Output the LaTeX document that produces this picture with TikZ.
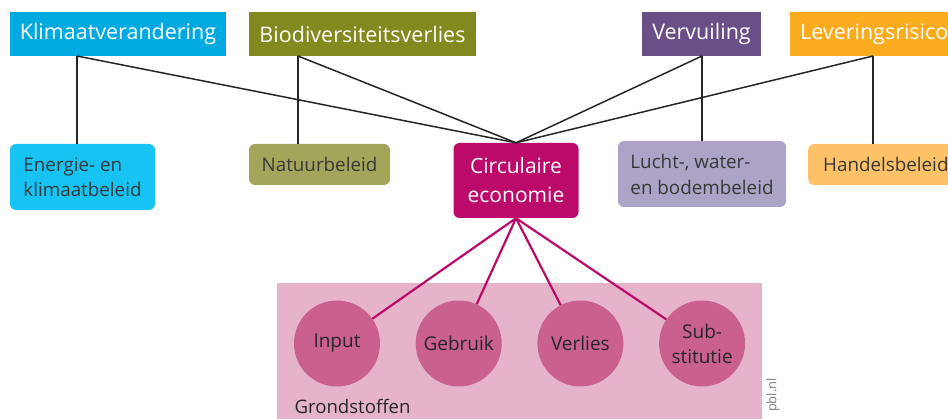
\documentclass[tikz,border=0pt]{standalone}
\usepackage{fontspec}
\setmainfont{Open Sans}
\usetikzlibrary{positioning}

\definecolor{klimaat}{HTML}{00A9E0}
\definecolor{biodiv}{HTML}{828A1F}
\definecolor{vervuil}{HTML}{6A4F87}
\definecolor{levering}{HTML}{FAAC1E}
\definecolor{energie}{HTML}{17C3F3}
\definecolor{natuur}{HTML}{A3A65A}
\definecolor{circ}{HTML}{BC0A6B}
\definecolor{lucht}{HTML}{ADA3C6}
\definecolor{handel}{HTML}{FDC168}
\definecolor{grondstof}{HTML}{E5B4CB}
\definecolor{cirkel}{HTML}{C9608E}
\definecolor{donker}{HTML}{383838}

\tikzset{
  thema/.style={fill=#1, text=white, minimum height=44pt, inner xsep=10pt,
    font=\fontsize{21.5}{24}\selectfont},
  beleid/.style={fill=#1, rounded corners=6pt, text=donker, align=left,
    font=\fontsize{18.8}{25}\selectfont},
  stofcirkel/.style={circle, fill=cirkel, minimum size=86pt, inner sep=0pt,
    text=black!85, align=center, font=\fontsize{19}{25}\selectfont},
  verband/.style={black!85, line width=1.5pt},
  stofverband/.style={circ, line width=2.2pt}
}

\begin{document}
\begin{tikzpicture}[x=1pt,y=-1pt]
\useasboundingbox (0,0) rectangle (948,419);

% thema's
\node [thema=klimaat, minimum width=216pt] (klimaat) at (118,34) {Klimaatverandering};
\node [thema=biodiv, minimum width=225pt] (biodiv) at (362.5,34) {Biodiversiteitsverlies};
\node [thema=vervuil, minimum width=117pt] (vervuil) at (701.5,34) {Vervuiling};
\node [thema=levering, minimum width=190pt, anchor=west, text width=170pt, align=left] (levering) at (790,34) {Leveringsrisico};

% beleid
\node [beleid=energie, minimum width=145pt, minimum height=66pt] (energie) at (82.5,177) {Energie- en\\klimaatbeleid};
\node [beleid=natuur, minimum width=141pt, minimum height=41pt] (natuur) at (319.5,164.5) {Natuurbeleid};
\node [beleid=circ, text=white, align=center, minimum width=125pt, minimum height=75pt,
  font=\fontsize{21}{29}\selectfont] (circ) at (516,180.5) {Circulaire\\economie};
\node [beleid=lucht, minimum width=168pt, minimum height=66pt, font=\fontsize{18.8}{26}\selectfont] (lucht) at (702,174) {Lucht-, water-\\en bodembeleid};
\node [beleid=handel, minimum width=170pt, minimum height=41pt, anchor=west, inner xsep=15pt,
  text width=140pt] (handel) at (808,164.5) {Handelsbeleid};

% aanhechtpunten
\coordinate (kv) at (77,56);
\coordinate (bv) at (298,56);
\coordinate (vv) at (702,56);
\coordinate (lv) at (873,56);

\draw [verband] (kv) -- (kv |- energie.north);
\draw [verband] (bv) -- (bv |- natuur.north);
\draw [verband] (vv) -- (vv |- lucht.north);
\draw [verband] (lv) -- (lv |- handel.north);
\foreach \p in {kv,bv,vv,lv}
  \draw [verband] (\p) -- (circ.north);

% grondstoffen
\fill [grondstof] (277,283) rectangle (762,425);
\node [anchor=base west, text=black!85, font=\fontsize{18.6}{20}\selectfont] (grond) at (291,414) {Grondstoffen};
\foreach \naam/\tekst [count=\i from 0] in {input/Input, gebruik/Gebruik, verlies/Verlies, subst/{Sub-\\stitutie}}
  \node [stofcirkel] (\naam) at (337+121.7*\i,343.5) {\tekst};
\foreach \naam in {input,gebruik,verlies,subst}
  \draw [stofverband] (circ.south) -- (\naam);

\node [rotate=90, text=black!50, font=\fontsize{13}{14}\selectfont] (bron) at (773,395) {pbl.nl};
\end{tikzpicture}
\end{document}
